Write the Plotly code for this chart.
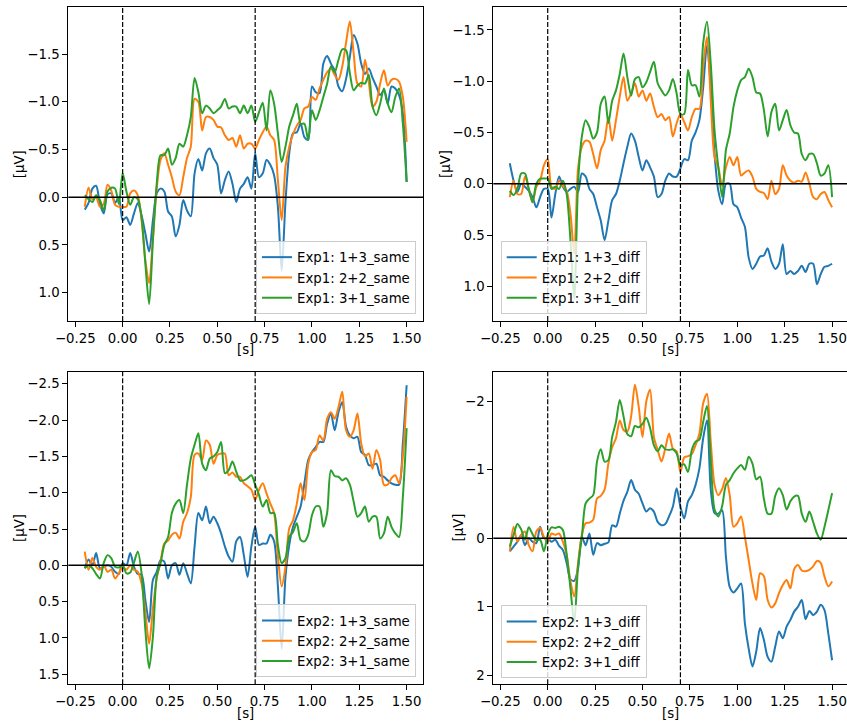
import numpy as np
import plotly.graph_objects as go

# Sample times (s) of the grand-average ERP traces
time_s = np.round(np.arange(-0.2, 1.5001, 0.02), 2)

# Experiment 1, "same" conditions (µV)
exp1_13_same = [0.13, 0.06, -0.09, -0.12, 0.07, 0.17, -0.03, -0.04, 0.06, 0.00,
                0.24, 0.21, 0.29, 0.17, 0.06, 0.19, 0.38, 0.57, 0.24, -0.04,
                -0.09, -0.06, 0.15, 0.20, 0.41, 0.29, 0.03, 0.14, 0.20, -0.25,
                -0.40, -0.28, -0.46, -0.51, -0.41, -0.34, -0.04, -0.18, -0.27, -0.14,
                0.05, -0.09, -0.14, -0.21, -0.09, -0.46, -0.21, -0.25, -0.39, -0.34,
                -0.23, 0.10, 0.77, 0.05, -0.46, -0.67, -0.68, -0.77, -0.63, -0.60,
                -1.16, -1.10, -1.09, -1.40, -1.48, -1.40, -1.33, -1.16, -1.11, -1.24,
                -1.47, -1.70, -1.61, -1.40, -1.29, -1.35, -1.25, -1.16, -1.07, -1.12,
                -0.98, -1.16, -1.14, -1.07, -0.88, -0.16]
exp1_22_same = [0.10, -0.10, 0.02, 0.00, 0.10, 0.07, -0.13, -0.07, 0.08, 0.10,
                0.10, 0.10, -0.04, -0.07, -0.02, 0.24, 0.66, 0.90, 0.42, -0.09,
                -0.39, -0.46, -0.34, -0.21, -0.06, -0.02, -0.21, -0.41, -0.53, -1.03,
                -1.00, -0.70, -0.84, -0.84, -0.81, -0.74, -0.73, -0.65, -0.60, -0.62,
                -0.53, -0.65, -0.51, -0.56, -0.56, -0.51, -0.60, -0.68, -0.74, -0.65,
                -0.60, -0.18, 0.24, -0.32, -0.53, -0.66, -0.75, -0.81, -0.93, -0.95,
                -1.05, -1.02, -1.14, -1.23, -1.31, -1.35, -1.28, -1.23, -1.37, -1.62,
                -1.84, -1.51, -1.19, -1.16, -1.44, -1.21, -0.95, -1.00, -1.19, -1.33,
                -1.17, -1.23, -1.24, -1.21, -1.05, -0.58]
exp1_31_same = [-0.02, 0.02, 0.05, -0.02, 0.03, 0.14, -0.06, -0.10, -0.09, 0.07,
                -0.25, -0.06, 0.08, 0.00, 0.02, 0.21, 0.70, 1.12, 0.45, -0.14,
                -0.44, -0.44, -0.51, -0.34, -0.41, -0.56, -0.53, -0.65, -0.84, -1.25,
                -1.10, -0.88, -0.96, -0.93, -0.88, -0.91, -0.95, -1.03, -0.93, -0.95,
                -0.95, -0.88, -0.96, -0.88, -0.96, -0.79, -0.89, -0.99, -0.70, -1.12,
                -0.98, -0.67, -0.37, -0.53, -0.74, -0.86, -0.98, -0.77, -0.77, -0.60,
                -0.91, -0.81, -0.91, -1.05, -1.19, -1.37, -1.31, -1.44, -1.55, -1.54,
                -1.30, -1.12, -1.17, -1.20, -1.19, -1.28, -0.95, -0.86, -0.98, -1.14,
                -0.98, -0.89, -1.05, -1.14, -0.77, -0.16]

# Experiment 1, "diff" conditions (µV)
exp1_13_diff = [-0.20, -0.03, 0.08, 0.00, 0.03, 0.07, 0.13, 0.23, 0.13, 0.05,
                0.05, 0.33, 0.10, -0.07, 0.03, 0.08, 0.05, 0.03, 0.08, -0.10,
                -0.07, 0.05, 0.10, 0.23, 0.36, 0.55, 0.36, 0.16, 0.10, -0.03,
                -0.20, -0.36, -0.49, -0.42, -0.26, -0.13, -0.23, -0.16, -0.07, 0.13,
                0.10, -0.03, -0.10, -0.07, -0.07, -0.15, -0.24, -0.23, -0.42, -0.50,
                -0.62, -0.94, -1.35, -0.93, -0.29, 0.07, 0.20, 0.00, 0.00, 0.20,
                0.23, 0.33, 0.42, 0.72, 0.83, 0.78, 0.71, 0.70, 0.63, 0.76,
                0.83, 0.78, 0.59, 0.88, 0.85, 0.88, 0.85, 0.80, 0.86, 0.78,
                0.78, 0.98, 0.88, 0.81, 0.80, 0.78]
exp1_22_diff = [0.13, -0.03, 0.10, 0.10, -0.07, 0.05, 0.18, 0.03, -0.03, -0.18,
                -0.24, 0.03, 0.05, -0.03, 0.02, 0.07, 0.29, 0.68, -0.15, -0.36,
                -0.42, -0.41, -0.29, -0.15, -0.33, -0.42, -0.65, -0.42, -0.62, -0.85,
                -1.04, -0.81, -0.88, -0.98, -0.85, -0.91, -0.81, -0.88, -0.75, -0.65,
                -0.68, -0.62, -0.65, -0.46, -0.59, -0.68, -0.60, -0.52, -0.65, -0.73,
                -0.73, -1.14, -1.43, -0.81, -0.26, -0.16, 0.02, -0.16, -0.26, -0.18,
                -0.26, -0.08, -0.11, -0.13, -0.07, 0.05, 0.08, 0.09, 0.15, -0.03,
                0.10, 0.05, -0.18, -0.08, -0.03, -0.01, -0.03, -0.02, -0.11, 0.00,
                0.13, 0.15, 0.10, 0.08, 0.16, 0.23]
exp1_31_diff = [0.07, 0.11, 0.05, -0.10, -0.10, 0.05, 0.18, 0.00, -0.05, -0.05,
                -0.05, 0.05, 0.03, 0.05, -0.03, 0.10, 0.55, 1.12, 0.00, -0.46,
                -0.62, -0.55, -0.44, -0.50, -0.78, -0.85, -0.59, -0.81, -0.91, -1.07,
                -1.27, -1.04, -0.86, -1.02, -1.04, -0.94, -0.99, -1.09, -1.19, -0.98,
                -0.91, -0.86, -0.91, -1.02, -0.88, -0.68, -0.68, -1.11, -0.96, -0.96,
                -0.85, -1.37, -1.58, -1.17, -0.52, -0.16, 0.13, -0.33, -0.49, -0.75,
                -0.91, -1.01, -1.04, -1.12, -1.04, -0.89, -0.88, -0.72, -0.46, -0.70,
                -0.78, -0.52, -0.62, -0.72, -0.57, -0.50, -0.49, -0.29, -0.23, -0.29,
                -0.29, -0.20, -0.08, -0.10, -0.18, 0.13]

# Experiment 2, "same" conditions (µV)
exp2_13_same = [0.04, -0.08, 0.00, -0.17, 0.04, 0.02, 0.00, 0.02, 0.09, 0.12,
                -0.03, 0.00, -0.17, 0.02, 0.12, 0.13, 0.48, 0.78, 0.20, 0.09,
                -0.07, -0.05, 0.18, 0.00, -0.03, 0.13, -0.03, 0.11, 0.25, -0.26,
                -0.72, -0.62, -0.81, -0.58, -0.67, -0.58, -0.44, -0.26, -0.12, -0.05,
                -0.33, -0.39, -0.14, 0.16, -0.26, -0.53, -0.28, -0.30, -0.30, -0.42,
                -0.33, 0.29, 1.15, 0.16, -0.28, -0.53, -0.67, -0.81, -1.13, -1.45,
                -1.56, -1.63, -1.70, -1.70, -1.95, -2.09, -1.86, -2.11, -2.25, -1.91,
                -1.79, -1.75, -1.77, -1.56, -1.52, -1.38, -1.38, -1.40, -1.24, -1.22,
                -1.17, -1.13, -1.11, -1.11, -1.68, -2.48]
exp2_22_same = [-0.19, 0.06, -0.10, 0.02, 0.06, 0.00, 0.09, 0.06, 0.18, 0.11,
                0.02, 0.06, 0.00, 0.06, 0.09, 0.25, 0.64, 1.08, 0.59, 0.18,
                -0.05, -0.30, -0.34, -0.42, -0.45, -0.37, -0.60, -0.72, -0.94, -1.52,
                -1.54, -1.45, -1.72, -1.66, -1.40, -1.52, -1.54, -1.54, -1.24, -1.28,
                -1.22, -1.22, -1.13, -1.09, -1.04, -0.90, -1.04, -1.13, -0.99, -0.85,
                -0.72, -0.12, 0.29, 0.02, -0.51, -0.62, -0.85, -1.13, -0.90, -1.40,
                -1.56, -1.59, -1.79, -1.72, -2.02, -2.11, -2.02, -2.18, -2.39, -1.86,
                -1.77, -1.86, -2.09, -1.68, -1.50, -1.54, -1.33, -1.59, -1.45, -1.11,
                -1.11, -1.20, -1.24, -1.13, -1.50, -2.32]
exp2_31_same = [0.04, 0.00, 0.04, 0.12, 0.18, -0.03, -0.14, -0.10, 0.02, 0.03,
                0.00, 0.11, 0.10, -0.04, -0.19, 0.11, 0.89, 1.42, 0.98, 0.15,
                -0.03, -0.28, -0.39, -0.72, -0.85, -0.90, -0.72, -1.11, -1.47, -1.66,
                -1.82, -1.40, -1.31, -1.47, -1.50, -1.56, -1.70, -1.27, -1.31, -1.43,
                -1.29, -1.17, -1.17, -1.20, -1.24, -1.11, -0.97, -0.81, -0.90, -0.72,
                -0.72, -0.28, -0.03, -0.10, -0.39, -0.46, -0.58, -0.35, -0.33, -0.42,
                -0.69, -0.81, -0.81, -0.53, -0.72, -1.31, -1.23, -1.22, -1.17, -1.20,
                -1.11, -0.88, -0.67, -0.72, -0.81, -0.60, -0.67, -0.67, -0.37, -0.44,
                -0.67, -0.53, -0.44, -0.39, -0.94, -1.89]

# Experiment 2, "diff" conditions (µV)
exp2_13_diff = [0.19, 0.12, 0.05, -0.05, 0.10, 0.00, 0.05, 0.07, -0.17, 0.00,
                0.00, 0.05, 0.02, 0.11, 0.17, 0.36, 0.60, 0.62, 0.44, -0.02,
                0.10, -0.07, 0.24, 0.07, 0.10, 0.08, 0.06, -0.19, -0.17, -0.36,
                -0.55, -0.68, -0.85, -0.71, -0.65, -0.51, -0.39, -0.44, -0.39, -0.24,
                -0.19, -0.21, -0.32, -0.46, -0.73, -0.46, -0.29, -0.54, -0.63, -0.78,
                -1.02, -1.46, -1.72, -0.71, -0.37, -0.36, -0.41, 0.27, 0.71, 0.79,
                0.73, 0.66, 1.24, 1.61, 1.87, 1.65, 1.31, 1.48, 1.73, 1.80,
                1.58, 1.36, 1.46, 1.29, 1.19, 1.07, 1.00, 0.90, 1.18, 1.06,
                1.12, 1.07, 0.97, 1.05, 1.39, 1.78]
exp2_22_diff = [0.19, -0.17, 0.05, -0.05, -0.10, 0.10, 0.19, -0.10, -0.15, -0.02,
                0.05, -0.07, -0.05, -0.07, 0.05, 0.24, 0.63, 0.85, 0.36, -0.05,
                -0.22, -0.23, -0.27, -0.58, -0.62, -0.71, -1.09, -1.33, -1.46, -1.72,
                -1.58, -1.56, -1.78, -2.24, -1.92, -1.48, -2.00, -2.17, -1.48, -1.29,
                -1.12, -1.31, -1.53, -1.31, -1.27, -0.97, -1.18, -1.20, -1.23, -1.36,
                -1.53, -1.97, -2.11, -1.41, -0.78, -0.63, -0.72, -0.88, -0.63, -0.17,
                -0.22, -0.32, -0.02, 0.32, 0.66, 0.90, 0.51, 0.55, 0.90, 1.01,
                0.95, 0.80, 0.68, 0.61, 0.73, 0.45, 0.39, 0.47, 0.48, 0.46,
                0.41, 0.33, 0.36, 0.56, 0.70, 0.63]
exp2_31_diff = [0.12, -0.05, -0.21, -0.13, 0.02, -0.16, -0.06, 0.03, 0.02, 0.19,
                -0.05, -0.16, -0.15, -0.17, -0.12, 0.24, 0.73, 1.24, 0.41, -0.02,
                -0.51, -0.58, -0.63, -1.12, -1.30, -1.12, -1.14, -1.48, -1.70, -2.02,
                -1.78, -1.52, -1.49, -1.64, -1.62, -1.67, -1.76, -1.61, -1.36, -1.27,
                -1.36, -1.30, -1.29, -1.30, -1.24, -1.07, -1.08, -0.97, -1.29, -1.41,
                -1.44, -1.70, -1.93, -1.14, -0.42, -0.32, -0.47, -0.78, -0.85, -0.95,
                -1.02, -1.07, -1.00, -1.19, -1.09, -0.86, -0.90, -0.58, -0.36, -0.36,
                -0.62, -0.73, -0.63, -0.42, -0.54, -0.61, -0.62, -0.36, -0.24, -0.39,
                -0.24, -0.07, 0.02, -0.17, -0.41, -0.66]

condition_labels = ["1+3", "2+2", "3+1"]
line_colors = ["#1f77b4", "#ff7f0e", "#2ca02c"]
stimulus_onsets = [0.0, 0.7]
x_tick_vals = [-0.25, 0.0, 0.25, 0.5, 0.75, 1.0, 1.25, 1.5]

FONT = "DejaVu Sans"
FS = 13.3
W, H = 847, 722


def tick_text(vals, fmt):
    # typographic minus sign, as in the original figure
    return [format(v, fmt).replace("-", "\u2212") for v in vals]


panels = [
    dict(exp="Exp1", kind="same", data=[exp1_13_same, exp1_22_same, exp1_31_same],
         xdom=[68.3, 423.3], ydom=[7.3, 321.0], xrange=[-0.287, 1.588],
         yrange=[1.297, -1.99], yticks=[-1.5, -1.0, -0.5, 0.0, 0.5, 1.0], yfmt=".1f",
         right_panel=False, leg=dict(x=416.0, y=314.0, xanchor="right"),
         ylab_x=19.0, xlab_y=349.5),
    dict(exp="Exp1", kind="diff", data=[exp1_13_diff, exp1_22_diff, exp1_31_diff],
         xdom=[493.3, 847.0], ydom=[7.3, 321.0], xrange=[-0.287, 1.5786],
         yrange=[1.338, -1.72], yticks=[-1.5, -1.0, -0.5, 0.0, 0.5, 1.0], yfmt=".1f",
         right_panel=True, leg=dict(x=500.7, y=314.0, xanchor="left"),
         ylab_x=444.8, xlab_y=349.5),
    dict(exp="Exp2", kind="same", data=[exp2_13_same, exp2_22_same, exp2_31_same],
         xdom=[68.3, 423.3], ydom=[371.7, 684.3], xrange=[-0.287, 1.588],
         yrange=[1.639, -2.667], yticks=[-2.5, -2.0, -1.5, -1.0, -0.5, 0.0, 0.5, 1.0, 1.5],
         yfmt=".1f", right_panel=False, leg=dict(x=416.0, y=677.3, xanchor="right"),
         ylab_x=19.0, xlab_y=713.0),
    dict(exp="Exp2", kind="diff", data=[exp2_13_diff, exp2_22_diff, exp2_31_diff],
         xdom=[493.3, 847.0], ydom=[371.7, 684.3], xrange=[-0.287, 1.5786],
         yrange=[2.131, -2.432], yticks=[-2, -1, 0, 1, 2], yfmt="d",
         right_panel=True, leg=dict(x=500.7, y=678.3, xanchor="left"),
         ylab_x=457.5, xlab_y=713.0),
]

fig = go.Figure()
layout = dict(width=W, height=H, margin=dict(l=0, r=0, t=0, b=0),
              plot_bgcolor="white", paper_bgcolor="white",
              font=dict(family=FONT, size=FS, color="black"),
              shapes=[], annotations=[])

for i, p in enumerate(panels):
    n = "" if i == 0 else str(i + 1)
    xa, ya = "x" + n, "y" + n
    leg_name = "legend" + n
    for lab, vals, col in zip(condition_labels, p["data"], line_colors):
        fig.add_trace(go.Scatter(
            x=time_s, y=vals, mode="lines",
            line=dict(color=col, width=2, shape="spline", smoothing=0.8),
            name=f"{p['exp']}: {lab}_{p['kind']}",
            xaxis=xa, yaxis=ya, legend=leg_name))

    axis_common = dict(showline=True, linecolor="black", linewidth=1,
                       ticks="outside", ticklen=5, tickwidth=1, tickcolor="black",
                       showgrid=False, zeroline=False, automargin=False,
                       tickfont=dict(family=FONT, size=FS, color="black"))
    layout["xaxis" + n] = dict(
        axis_common, domain=[p["xdom"][0] / W, p["xdom"][1] / W],
        range=p["xrange"], anchor=ya, mirror=True,
        tickvals=x_tick_vals, ticktext=tick_text(x_tick_vals, ".2f"))
    layout["yaxis" + n] = dict(
        axis_common, domain=[1 - p["ydom"][1] / H, 1 - p["ydom"][0] / H],
        range=p["yrange"], anchor=xa, mirror=not p["right_panel"],
        tickvals=p["yticks"], ticktext=tick_text(p["yticks"], p["yfmt"]))

    # axis labels
    cx = (p["xdom"][0] + min(p["xdom"][1], 423.3 if not p["right_panel"] else 848.2)) / 2
    layout["annotations"].append(dict(
        text="[s]", xref="paper", yref="paper", x=cx / W, y=1 - p["xlab_y"] / H,
        xanchor="center", yanchor="middle", showarrow=False,
        font=dict(family=FONT, size=FS, color="black")))
    cy = (p["ydom"][0] + p["ydom"][1]) / 2
    layout["annotations"].append(dict(
        text="[µV]", xref="paper", yref="paper", x=p["ylab_x"] / W, y=1 - cy / H,
        xanchor="center", yanchor="middle", showarrow=False, textangle=-90,
        font=dict(family=FONT, size=FS, color="black")))

    # stimulus onsets and zero baseline
    for t0 in stimulus_onsets:
        layout["shapes"].append(dict(
            type="line", xref=xa, yref=ya + " domain", x0=t0, x1=t0, y0=0, y1=1,
            line=dict(color="black", width=1.2, dash="5px,2px"), layer="above"))
    layout["shapes"].append(dict(
        type="line", xref=xa + " domain", yref=ya, x0=0, x1=1, y0=0, y1=0,
        line=dict(color="black", width=1.5), layer="above"))

    lg = p["leg"]
    layout[leg_name] = dict(
        x=lg["x"] / W, y=1 - lg["y"] / H, xanchor=lg["xanchor"], yanchor="bottom",
        bgcolor="rgba(255,255,255,0.8)", bordercolor="#cccccc", borderwidth=1,
        font=dict(family=FONT, size=FS, color="black"))

fig.update_layout(**layout)
fig.write_html("out.html")
